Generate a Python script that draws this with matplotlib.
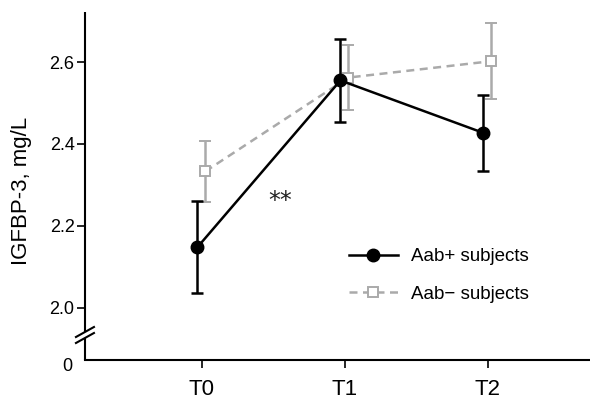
import matplotlib
matplotlib.use('Agg')

import matplotlib.pyplot as plt
import matplotlib.transforms as mtransforms
from matplotlib.lines import Line2D
import numpy as np

plt.rcParams['font.family'] = ['Liberation Sans', 'DejaVu Sans']

# data
timepoints = ['T0', 'T1', 'T2']
pos_mean = [2.148, 2.555, 2.427]
pos_err = [0.112, 0.101, 0.093]
neg_mean = [2.333, 2.562, 2.602]
neg_err = [0.075, 0.080, 0.093]
yticks = [2.0, 2.2, 2.4, 2.6]
ylabel = 'IGFBP-3, mg/L'

DPI = 100
fig = plt.figure(figsize=(5.9, 3.95), dpi=DPI)
ax = fig.add_axes([0.144, 0.0886, 0.856, 0.880])

x = np.arange(len(timepoints))
gray = '#aaaaaa'
dash = (0, (3.2, 2.2))

ax.errorbar(x + 0.025, neg_mean, yerr=neg_err, color=gray, lw=1.8, ls=dash,
            marker='s', ms=7, mfc='white', mec=gray, mew=1.4,
            ecolor=gray, elinewidth=1.8, capsize=4.5, capthick=1.8, zorder=2)
ax.errorbar(x - 0.03, pos_mean, yerr=pos_err, color='black', lw=1.8,
            marker='o', ms=9, mfc='black', mec='black',
            ecolor='black', elinewidth=1.8, capsize=4.5, capthick=1.8, zorder=3)

# significance marker
ax.text(0.548, 2.262, '**', ha='center', va='center', fontsize=17,
        family='DejaVu Sans', color='#222222')

ymin, ymax = 1.873, 2.721
ax.set_xlim(-0.816, 2.715)
ax.set_ylim(ymin, ymax)
ax.set_yticks(yticks)
ax.set_yticklabels(['%.1f' % v for v in yticks])
ax.set_xticks(x)
ax.set_xticklabels(timepoints)
ax.tick_params(axis='y', length=6, width=1.2, pad=1.5, labelsize=13)
ax.tick_params(axis='x', length=6, width=1.2, pad=8, labelsize=16)
ax.set_ylabel(ylabel, fontsize=16)
ax.yaxis.set_label_coords(-0.104, 0.486)

for s in ['top', 'right']:
    ax.spines[s].set_visible(False)
ax.spines['bottom'].set_linewidth(1.5)
ax.spines['left'].set_visible(False)

# left spine with a break
ybreak = 1.934
trans = mtransforms.blended_transform_factory(ax.transAxes, ax.transData)
pos = ax.get_position()
ax_w = fig.get_figwidth() * DPI * pos.width
ax_h = fig.get_figheight() * DPI * pos.height
px_x = 1.0 / ax_w
px_y = (ymax - ymin) / ax_h
gap = 3.0
ax.plot([0, 0], [ybreak + gap * px_y, ymax], color='black', lw=1.5,
        transform=trans, clip_on=False, solid_capstyle='butt')
ax.plot([0, 0], [ymin, ybreak - gap * px_y], color='black', lw=1.5,
        transform=trans, clip_on=False, solid_capstyle='butt')
for off in [gap, -gap]:
    ax.plot([-9 * px_x, 9 * px_x],
            [ybreak + off * px_y - 5 * px_y, ybreak + off * px_y + 5 * px_y],
            color='black', lw=1.5, transform=trans, clip_on=False)

ax.annotate('0', xy=(0, ymin), xycoords=trans, xytext=(-9, -4.5),
            textcoords='offset points', ha='right', va='center', fontsize=13)

handles = [
    Line2D([], [], color='black', lw=1.8, marker='o', ms=9, mfc='black'),
    Line2D([], [], color=gray, lw=1.8, ls=dash, marker='s', ms=7,
           mfc='white', mec=gray, mew=1.4),
]
labels = ['Aab+ subjects', 'Aab\u2212 subjects']
leg = ax.legend(handles, labels, loc='center left',
                bbox_to_anchor=(0.523, 0.243), frameon=False, fontsize=13.5,
                borderpad=0, borderaxespad=0,
                handlelength=2.6, labelspacing=1.1, handletextpad=0.7)

plt.savefig('out.png', dpi=DPI)
